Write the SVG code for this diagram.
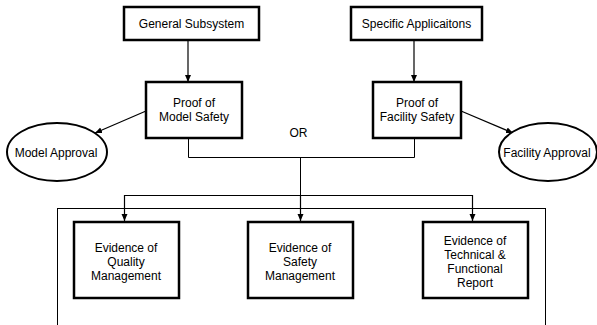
<svg xmlns="http://www.w3.org/2000/svg" width="597" height="325" viewBox="0 0 597 325">
<defs>
<marker id="ah" markerWidth="8" markerHeight="8" refX="7" refY="4" orient="auto" markerUnits="userSpaceOnUse">
<path d="M0,1 L7,4 L0,7 z" fill="#000"/>
</marker>
<style>
.box{fill:#fff;stroke:#000;stroke-width:2.5}
.ell{fill:#fff;stroke:#000;stroke-width:2}
.ln{fill:none;stroke:#000;stroke-width:1}
.ar{fill:none;stroke:#000;stroke-width:1.2;marker-end:url(#ah)}
text{font-family:"Liberation Sans",Arial,sans-serif;font-size:12px;fill:#000;text-anchor:middle}
</style>
</defs>
<rect width="597" height="325" fill="#fff"/>
<rect class="ln" x="57.5" y="208.5" width="488" height="130"/>
<g id="connectors">
<line class="ar" x1="188" y1="40" x2="188" y2="82"/>
<line class="ar" x1="414" y1="40" x2="414" y2="82"/>
<line class="ar" x1="146" y1="111" x2="95" y2="133"/>
<line class="ar" x1="461" y1="111" x2="513" y2="133"/>
<polyline class="ln" points="188.5,138 188.5,157.5 414.5,157.5 414.5,138"/>
<line class="ln" x1="300.5" y1="157" x2="300.5" y2="195"/>
<line class="ln" x1="124" y1="195.5" x2="473" y2="195.5"/>
<line class="ar" x1="124.5" y1="195" x2="124.5" y2="221"/>
<line class="ar" x1="300.5" y1="195" x2="300.5" y2="221"/>
<line class="ar" x1="472.5" y1="195" x2="472.5" y2="221"/>
</g>
<text x="298.5" y="137">OR</text>
<g id="general"><rect class="box" x="124" y="7" width="135" height="33"/><text x="191.5" y="28">General Subsystem</text></g>
<g id="specific"><rect class="box" x="351" y="7" width="131" height="33"/><text x="416.5" y="28">Specific Applicaitons</text></g>
<g id="proof-model"><rect class="box" x="146" y="82" width="96" height="56"/><text x="194" y="107">Proof of</text><text x="194" y="121">Model Safety</text></g>
<g id="proof-facility"><rect class="box" x="373" y="82" width="88" height="56"/><text x="417" y="107">Proof of</text><text x="417" y="121">Facility Safety</text></g>
<g id="model-approval"><ellipse class="ell" cx="57" cy="152" rx="50" ry="29"/><text x="56" y="157">Model Approval</text></g>
<g id="facility-approval"><ellipse class="ell" cx="548" cy="152" rx="49" ry="29"/><text x="547" y="157">Facility Approval</text></g>
<g id="ev-quality"><rect class="box" x="74" y="222" width="105" height="76"/><text x="126" y="252">Evidence of</text><text x="126" y="266">Quality</text><text x="126" y="280">Management</text></g>
<g id="ev-safety"><rect class="box" x="248" y="222" width="105" height="76"/><text x="300" y="252">Evidence of</text><text x="300" y="266">Safety</text><text x="300" y="280">Management</text></g>
<g id="ev-technical"><rect class="box" x="423" y="222" width="105" height="76"/><text x="475" y="245">Evidence of</text><text x="475" y="259">Technical &amp;</text><text x="475" y="273">Functional</text><text x="475" y="287">Report</text></g>
</svg>
